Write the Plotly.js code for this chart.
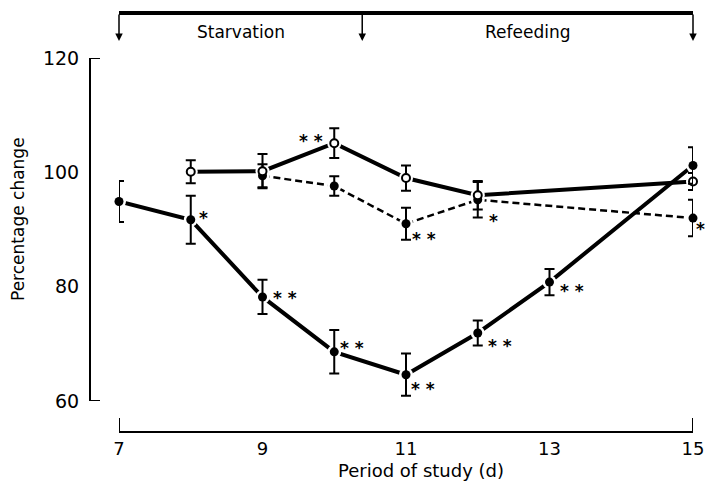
<!DOCTYPE html>
<html>
<head>
<meta charset="utf-8">
<script src="https://cdn.plot.ly/plotly-3.0.1.min.js"></script>
<style>html,body{margin:0;padding:0;background:#fff;}#chart{width:707px;height:487px;}</style>
</head>
<body>
<div id="chart"></div>
<script>
// ---- data ----
const mainDays  = [7, 8, 9, 10, 11, 12, 13, 15];
const mainMean  = [94.9, 91.7, 78.2, 68.6, 64.6, 71.9, 80.8, 101.2];
const mainErr   = [3.6, 4.2, 3.0, 3.8, 3.7, 2.2, 2.3, 3.2];
const mainStars = ['', '*', '**', '**', '**', '**', '**', ''];

const openDays  = [8, 9, 10, 11, 12, 15];
const openMean  = [100.1, 100.2, 105.1, 99.0, 96.0, 98.4];
const openErr   = [2.0, 3.0, 2.6, 2.2, 2.5, 1.5];
const openStars = ['', '', '**', '', '', ''];

const dashDays  = [9, 10, 11, 12, 15];
const dashMean  = [99.4, 97.6, 91.0, 95.2, 92.0];
const dashErr   = [2.0, 1.7, 2.8, 3.1, 3.2];
const dashStars = ['', '', '**', '*', '*'];

const xTickVals = [7, 9, 11, 13, 15];
const xTickText = ['7', '9', '11', '13', '15'];
const yTickVals = [60, 80, 100, 120];
const yTickText = ['60', '80', '100', '120'];

const periodNames  = ['Starvation', 'Refeeding'];
const periodBounds = [7, 10.39, 15];

const xTitle = 'Period of study (d)';
const yTitle = 'Percentage change';

// ---- styling ----
const FONT = 'DejaVu Sans, Liberation Sans, sans-serif';
const W = 707, H = 487;
const M = {l: 90, r: 14, t: 58, b: 55};
const PW = W - M.l - M.r, PH = H - M.t - M.b;
const px2py = p => (H - M.b - p) / PH;      // page-pixel y -> paper y
const px2px = p => (p - M.l) / PW;          // page-pixel x -> paper x

// star label offsets (pixels from the point, dy down positive)
const starOffsets = {
  main: {8: [13, -6], 9: [22, -3], 10: [18, -8], 11: [17, 10], 12: [22, 9], 13: [22, 5]},
  open: {10: [-23, -6]},
  dash: {11: [18, 11], 12: [16, 17], 15: [7, 7]}
};

function gapTrace(x, y, dash, width) {
  return {x: x, y: y, type: 'scatter', mode: 'lines+markers', cliponaxis: false,
    line: {color: '#000', width: width, dash: dash},
    marker: {size: 14, color: '#fff', line: {width: 0}}, hoverinfo: 'skip'};
}
function pointTrace(x, y, err, open) {
  return {x: x, y: y, type: 'scatter', mode: 'markers', cliponaxis: false,
    error_y: {type: 'data', array: err, visible: true, color: '#000', thickness: 2, width: 5},
    marker: open ? {size: 8, color: '#fff', line: {color: '#000', width: 2}}
                 : {size: 9, color: '#000', line: {width: 0}},
    hoverinfo: 'skip'};
}

const traces = [
  gapTrace(dashDays, dashMean, '7px,4px', 2.5),
  gapTrace(openDays, openMean, 'solid', 4),
  gapTrace(mainDays, mainMean, 'solid', 4),
  pointTrace(dashDays, dashMean, dashErr, false),
  pointTrace(openDays, openMean, openErr, true),
  pointTrace(mainDays, mainMean, mainErr, false)
];

const annotations = [];
function addStars(key, days, means, stars) {
  days.forEach((d, i) => {
    if (!stars[i]) return;
    const off = (starOffsets[key] && starOffsets[key][d]) || [18, 8];
    annotations.push({x: d, y: means[i], xref: 'x', yref: 'y', showarrow: false,
      text: stars[i].split('').join(' '), font: {family: FONT, size: 17, color: '#000', weight: 'bold'},
      xanchor: 'center', yanchor: 'middle', xshift: off[0], yshift: -(off[1] + 4)});
  });
}
addStars('main', mainDays, mainMean, mainStars);
addStars('open', openDays, openMean, openStars);
addStars('dash', dashDays, dashMean, dashStars);

// axis titles
annotations.push({text: xTitle, xref: 'paper', yref: 'paper', x: px2px(421), y: px2py(470),
  showarrow: false, xanchor: 'center', yanchor: 'middle', font: {family: FONT, size: 18, color: '#000'}});
annotations.push({text: yTitle, xref: 'paper', yref: 'paper', x: px2px(18), y: px2py(219),
  showarrow: false, textangle: -90, xanchor: 'center', yanchor: 'middle', font: {family: FONT, size: 17, color: '#000'}});

// period labels and arrows
periodNames.forEach((name, i) => {
  annotations.push({text: name, xref: 'x', yref: 'paper',
    x: (periodBounds[i] + periodBounds[i + 1]) / 2, y: px2py(32),
    showarrow: false, xanchor: 'center', yanchor: 'middle', font: {family: FONT, size: 17, color: '#000'}});
});
periodBounds.forEach(b => {
  annotations.push({text: '', xref: 'x', yref: 'paper', x: b, y: px2py(41),
    showarrow: true, ax: 0, ay: -28, arrowhead: 2, arrowsize: 1, arrowwidth: 1.5, arrowcolor: '#000'});
});

const shapes = [
  // period bracket
  {type: 'line', xref: 'x', yref: 'paper', x0: periodBounds[0], x1: periodBounds[periodBounds.length - 1],
   y0: px2py(13), y1: px2py(13), line: {color: '#000', width: 4}},
  // x-axis end ticks
  {type: 'line', xref: 'x', yref: 'paper', x0: xTickVals[0], x1: xTickVals[0], y0: 0, y1: 14 / PH, line: {color: '#000', width: 2}},
  {type: 'line', xref: 'x', yref: 'paper', x0: xTickVals[xTickVals.length - 1], x1: xTickVals[xTickVals.length - 1], y0: 0, y1: 14 / PH, line: {color: '#000', width: 2}},
  // y-axis end ticks
  {type: 'line', xref: 'paper', yref: 'y', x0: 0, x1: 10 / PW, y0: yTickVals[yTickVals.length - 1], y1: yTickVals[yTickVals.length - 1], line: {color: '#000', width: 2}},
  {type: 'line', xref: 'paper', yref: 'y', x0: 0, x1: 10 / PW, y0: yTickVals[0], y1: yTickVals[0], line: {color: '#000', width: 2}}
];

const layout = {
  width: W, height: H, autosize: false, margin: M,
  paper_bgcolor: '#fff', plot_bgcolor: '#fff', showlegend: false, hovermode: false,
  font: {family: FONT, size: 17, color: '#000'},
  xaxis: {domain: [(119 - M.l) / PW, 1], range: [xTickVals[0], xTickVals[xTickVals.length - 1]],
    anchor: 'free', position: 0, showline: true, linewidth: 2, linecolor: '#000',
    ticks: '', tickvals: xTickVals, ticktext: xTickText, showgrid: false, zeroline: false,
    tickfont: {family: FONT, size: 18, color: '#000'}, ticklabelstandoff: 0},
  yaxis: {domain: [(H - M.b - 401) / PH, 1], range: [yTickVals[0], yTickVals[yTickVals.length - 1]],
    anchor: 'free', position: 0, showline: true, linewidth: 2, linecolor: '#000',
    ticks: '', tickvals: yTickVals, ticktext: yTickText, showgrid: false, zeroline: false,
    tickfont: {family: FONT, size: 19, color: '#000'}, ticklabelstandoff: 6},
  shapes: shapes,
  annotations: annotations
};

Plotly.newPlot('chart', traces, layout, {staticPlot: true, displayModeBar: false});
</script>
</body>
</html>
